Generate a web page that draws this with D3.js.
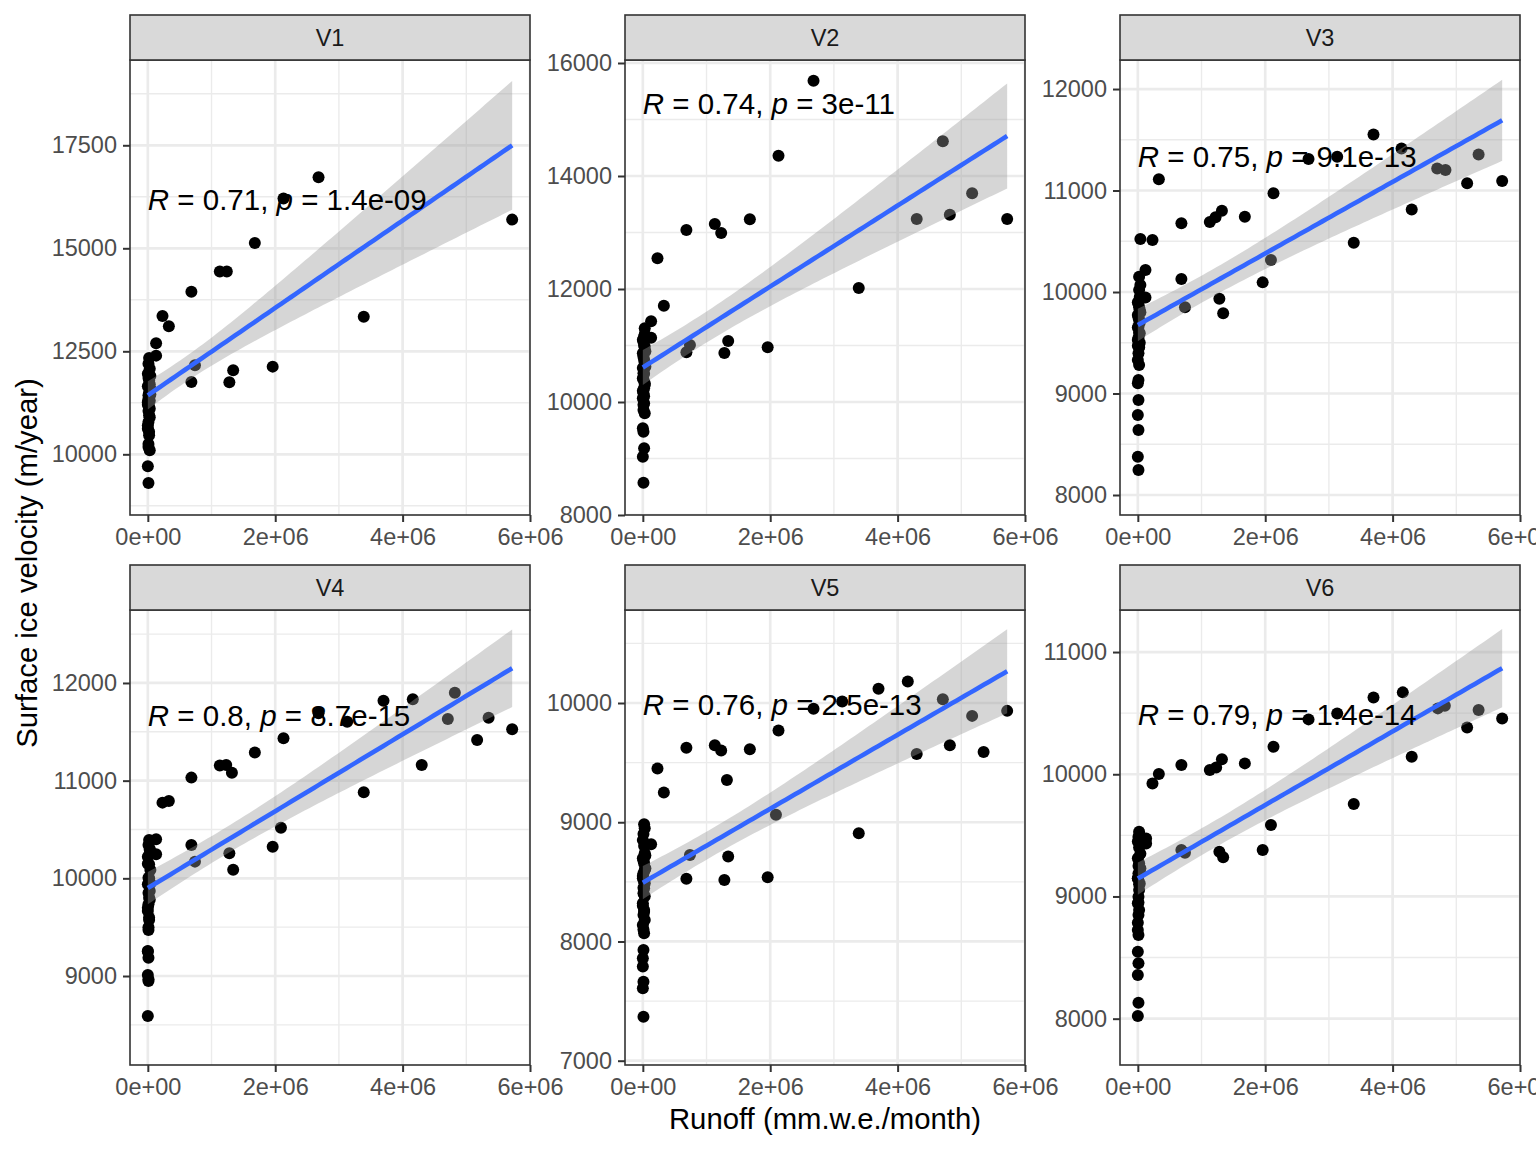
<!DOCTYPE html>
<html><head><meta charset="utf-8">
<script src="https://cdn.jsdelivr.net/npm/d3@7"></script>
<style>
html,body{margin:0;padding:0;background:#fff;}
svg{display:block;}
</style>
</head><body>
<script>
// ---------------- DATA ----------------
const panelNames = ["V1","V2","V3","V4","V5","V6"];
const corR = ["0.71","0.74","0.75","0.8","0.76","0.79"];
const corP = ["1.4e-09","3e-11","9.1e-13","8.7e-15","2.5e-13","1.4e-14"];
const xTicks = [0, 2e6, 4e6, 6e6];
const xTickLabels = ["0e+00","2e+06","4e+06","6e+06"];
const xMinorTicks = [1e6, 3e6, 5e6];
const xDomain = [-0.28e6, 6.0e6];
const yDomains = [[8527,19570],[8000,16053],[7803,12286],[8089,12747],[6964,10780],[7621,11344]];
const yTicks = [[10000,12500,15000,17500],[8000,10000,12000,14000,16000],[8000,9000,10000,11000,12000],[9000,10000,11000,12000],[7000,8000,9000,10000],[8000,9000,10000,11000]];
const yMinorTicks = [[8750,11250,13750,16250,18750],[9000,11000,13000,15000],[8500,9500,10500,11500],[8500,9500,10500,11500,12500],[7500,8500,9500,10500],[8500,9500,10500]];

// [runoff (mm.w.e./month), surface ice velocity (m/year)]
const v1 = [[2.68e6,16723],[2.13e6,16206],[5.72e6,15696],[1.68e6,15129],[1.13e6,14434],[1.24e6,14434],[0.684e6,13948],[0.23e6,13358],[0.33e6,13107],[3.39e6,13341],[0.13e6,12694],[0.13e6,12395],[1.96e6,12128],[1.34e6,12039],[0.74e6,12160],[0.684e6,11756],[1.28e6,11748],
 [0.02e6,12338],[0.01e6,12200],[0.03e6,12079],[0,11958],[0.02e6,11796],[0.04e6,11594],[0.01e6,11432],[0,11270],[0.03e6,11108],[0.02e6,10947],[0.01e6,10785],[0,10623],[0.02e6,10461],[0.01e6,10178],[0.03e6,10097],[0,9709],[0.01e6,9304],
 [0.03e6,11500],[0,11250],[0.02e6,11650],[0.04e6,11900],[0.01e6,11850],[0.03e6,11700],[0,11650],[0.02e6,11500],[0.04e6,11450],[0.01e6,11350],[0.03e6,11300],[0,11200],[0.02e6,11150],[0.01e6,11050],[0.03e6,10900],[0,10700],[0.02e6,10550],[0.01e6,10250]];
const v2 = [[2.68e6,15687],[2.13e6,14360],[4.71e6,14614],[5.17e6,13693],[4.82e6,13316],[4.30e6,13239],[5.72e6,13239],[1.68e6,13233],[0.684e6,13044],[1.13e6,13150],[1.23e6,12991],[0.23e6,12543],[3.39e6,12018],[0.33e6,11705],[0.13e6,11428],[0.13e6,11139],[0.74e6,11009],[0.684e6,10879],[1.34e6,11080],[1.28e6,10867],[1.96e6,10968],
 [0.03e6,11304],[0.02e6,11156],[0.01e6,11068],[0.03e6,10979],[0,10861],[0.02e6,10743],[0.04e6,10625],[0.01e6,10507],[0,10419],[0.03e6,10330],[0.02e6,10242],[0.01e6,10153],[0,10065],[0.02e6,9976],[0.01e6,9858],[0.03e6,9799],[0,9534],[0.01e6,9475],[0,9032],[0.01e6,8572],
 [0.03e6,11200],[0,11100],[0.02e6,11000],[0.04e6,10900],[0.01e6,10800],[0.03e6,10700],[0,10600],[0.02e6,10500],[0.01e6,10400],[0.03e6,10300],[0,10200],[0.02e6,10100],[0.01e6,9950],[0.02e6,9180]];
const v3 = [[3.70e6,11553],[4.14e6,11415],[3.13e6,11333],[2.68e6,11310],[5.35e6,11356],[4.70e6,11218],[4.83e6,11202],[0.33e6,11110],[5.72e6,11094],[5.17e6,11071],[2.13e6,10972],[4.30e6,10814],[1.32e6,10801],[1.22e6,10736],[1.13e6,10690],[1.68e6,10742],[0.684e6,10677],[0.23e6,10512],[3.39e6,10486],[2.09e6,10315],[1.96e6,10095],[0.684e6,10128],[1.28e6,9934],[0.74e6,9849],[1.34e6,9790],[0.12e6,10217],[0.12e6,9947],
 [0.04e6,10522],[0.04e6,10069],[0.02e6,10151],[0.02e6,10020],[0.01e6,9888],[0.03e6,9823],[0,9773],[0.02e6,9724],[0.01e6,9658],[0.03e6,9593],[0,9527],[0.02e6,9461],[0.01e6,9396],[0,9330],[0.02e6,9281],[0.01e6,9133],[0,9100],[0.01e6,8936],[0,8788],[0.01e6,8640],[0,8378],[0.01e6,8246],
 [0.03e6,9950],[0,9900],[0.02e6,9850],[0.04e6,9800],[0.01e6,9750],[0.03e6,9700],[0,9650],[0.02e6,9600],[0.01e6,9550],[0.03e6,9500],[0,9470],[0.02e6,9455]];
const v4 = [[4.82e6,11901],[3.70e6,11819],[4.16e6,11833],[2.68e6,11689],[3.13e6,11604],[4.71e6,11631],[5.35e6,11645],[5.72e6,11526],[5.17e6,11416],[2.13e6,11433],[1.68e6,11287],[4.30e6,11160],[1.13e6,11154],[1.23e6,11160],[1.32e6,11082],[0.684e6,11031],[3.39e6,10881],[0.23e6,10775],[0.33e6,10792],[2.09e6,10519],[1.96e6,10324],[0.684e6,10341],[1.28e6,10256],[0.74e6,10171],[1.34e6,10089],[0.13e6,10399],[0.13e6,10246],
 [0.02e6,10392],[0.01e6,10341],[0.03e6,10290],[0,10222],[0.02e6,10143],[0.04e6,10085],[0.01e6,10007],[0,9939],[0.03e6,9870],[0.02e6,9802],[0.01e6,9734],[0,9666],[0.02e6,9573],[0.01e6,9471],[0,9256],[0.01e6,9188],[0,9010],[0.01e6,8966],[0,8590],
 [0.03e6,10300],[0,10150],[0.02e6,10000],[0.04e6,9950],[0.01e6,9850],[0.03e6,9780],[0,9700],[0.02e6,9600],[0.01e6,9500],[0,9250],[0.01e6,8950]];
const v5 = [[4.16e6,10180],[3.70e6,10119],[3.13e6,10013],[2.68e6,9951],[4.71e6,10032],[5.72e6,9934],[5.17e6,9892],[2.13e6,9769],[0.684e6,9624],[1.13e6,9646],[1.23e6,9601],[1.68e6,9613],[4.82e6,9646],[4.30e6,9573],[5.35e6,9590],[0.23e6,9450],[1.32e6,9355],[0.33e6,9249],[2.09e6,9062],[3.39e6,8908],[0.13e6,8815],[0.74e6,8726],[1.34e6,8712],[0.684e6,8527],[1.28e6,8516],[1.96e6,8538],
 [0.02e6,8983],[0.01e6,8902],[0.03e6,8740],[0,8698],[0.02e6,8656],[0.04e6,8614],[0.01e6,8572],[0,8530],[0.03e6,8488],[0.02e6,8446],[0.01e6,8404],[0,8320],[0.02e6,8264],[0.01e6,8222],[0.03e6,8180],[0,8138],[0.02e6,8068],[0.01e6,7929],[0,7859],[0.01e6,7663],[0,7607],[0.01e6,7369],
 [0.03e6,8950],[0,8850],[0.02e6,8800],[0.04e6,8720],[0.01e6,8680],[0.03e6,8600],[0,8550],[0.02e6,8500],[0.01e6,8450],[0.03e6,8380],[0,8300],[0.02e6,8250],[0.01e6,8100],[0,7790]];
const v6 = [[4.16e6,10670],[3.70e6,10629],[3.13e6,10498],[2.68e6,10449],[4.71e6,10539],[4.82e6,10561],[5.35e6,10525],[5.72e6,10457],[5.17e6,10383],[2.13e6,10225],[0.684e6,10075],[1.68e6,10089],[1.13e6,10034],[1.23e6,10056],[1.32e6,10122],[0.33e6,10002],[0.23e6,9925],[4.30e6,10143],[3.39e6,9756],[2.09e6,9584],[1.96e6,9380],[0.684e6,9380],[0.74e6,9358],[1.28e6,9366],[1.34e6,9320],[0.13e6,9475],[0.13e6,9434],
 [0.02e6,9530],[0.01e6,9489],[0.03e6,9434],[0,9312],[0.02e6,9271],[0.04e6,9230],[0.01e6,9189],[0,9148],[0.03e6,9107],[0.02e6,9053],[0.01e6,8998],[0,8944],[0.02e6,8889],[0.01e6,8848],[0,8725],[0.01e6,8684],[0,8548],[0.01e6,8453],[0,8357],[0.01e6,8131],[0,8022],
 [0.03e6,9500],[0,9450],[0.02e6,9400],[0.04e6,9350],[0.01e6,9250],[0.03e6,9200],[0,9150],[0.02e6,9100],[0.01e6,8950],[0,8784]];
const panelData = [v1, v2, v3, v4, v5, v6];

// ---------------- LAYOUT ----------------
const W = 1536, H = 1152;
const FONT = "'Liberation Sans', Arial, Helvetica, sans-serif";
const colLeft = [130, 625, 1120];
const panelW = 400;
const stripTop = [15, 565];
const stripH = 45;
const panelH = 455;

function qt975(df) {
  const z = 1.959964;
  const g1 = (z**3 + z) / 4;
  const g2 = (5*z**5 + 16*z**3 + 3*z) / 96;
  const g3 = (3*z**7 + 19*z**5 + 17*z**3 - 15*z) / 384;
  return z + g1/df + g2/df**2 + g3/df**3;
}

function fitLm(pts) {
  const n = pts.length;
  const mx = d3.mean(pts, d => d[0]), my = d3.mean(pts, d => d[1]);
  let sxx = 0, sxy = 0;
  pts.forEach(([x, y]) => { sxx += (x - mx) ** 2; sxy += (x - mx) * (y - my); });
  const b = sxy / sxx, a = my - b * mx;
  let sse = 0;
  pts.forEach(([x, y]) => { sse += (y - a - b * x) ** 2; });
  const s = Math.sqrt(sse / (n - 2));
  const t = qt975(n - 2);
  const [x0, x1] = d3.extent(pts, d => d[0]);
  return d3.range(80).map(i => {
    const x = x0 + (x1 - x0) * i / 79;
    const yh = a + b * x;
    const se = s * Math.sqrt(1 / n + (x - mx) ** 2 / sxx);
    return { x, y: yh, lo: yh - t * se, hi: yh + t * se };
  });
}

const svg = d3.select("body").append("svg")
  .attr("width", W).attr("height", H)
  .attr("viewBox", `0 0 ${W} ${H}`)
  .style("font-family", FONT);

svg.append("rect").attr("width", W).attr("height", H).attr("fill", "#ffffff");

panelNames.forEach((name, i) => {
  const col = i % 3, row = Math.floor(i / 3);
  const left = colLeft[col];
  const sTop = stripTop[row];
  const pTop = sTop + stripH;
  const pBot = pTop + panelH;
  const pts = panelData[i];

  const x = d3.scaleLinear().domain(xDomain).range([left, left + panelW]);
  const y = d3.scaleLinear().domain(yDomains[i]).range([pBot, pTop]);

  const g = svg.append("g");
  const clipId = "clip" + i;
  svg.append("clipPath").attr("id", clipId).append("rect")
    .attr("x", left).attr("y", pTop).attr("width", panelW).attr("height", panelH);

  // panel background
  g.append("rect").attr("x", left).attr("y", pTop).attr("width", panelW).attr("height", panelH).attr("fill", "#ffffff");

  const grid = g.append("g").attr("clip-path", `url(#${clipId})`);
  // minor grid
  grid.append("g").selectAll("line").data(xMinorTicks).join("line")
    .attr("x1", d => x(d)).attr("x2", d => x(d)).attr("y1", pTop).attr("y2", pBot)
    .attr("stroke", "#EBEBEB").attr("stroke-width", 1.4);
  grid.append("g").selectAll("line").data(yMinorTicks[i]).join("line")
    .attr("y1", d => y(d)).attr("y2", d => y(d)).attr("x1", left).attr("x2", left + panelW)
    .attr("stroke", "#EBEBEB").attr("stroke-width", 1.4);
  // major grid
  grid.append("g").selectAll("line").data(xTicks).join("line")
    .attr("x1", d => x(d)).attr("x2", d => x(d)).attr("y1", pTop).attr("y2", pBot)
    .attr("stroke", "#EBEBEB").attr("stroke-width", 2.7);
  grid.append("g").selectAll("line").data(yTicks[i]).join("line")
    .attr("y1", d => y(d)).attr("y2", d => y(d)).attr("x1", left).attr("x2", left + panelW)
    .attr("stroke", "#EBEBEB").attr("stroke-width", 2.7);

  const dataG = g.append("g").attr("clip-path", `url(#${clipId})`);
  // points
  dataG.append("g").selectAll("circle").data(pts).join("circle")
    .attr("cx", d => x(d[0])).attr("cy", d => y(d[1])).attr("r", 6).attr("fill", "#000000");

  // smooth
  const fit = fitLm(pts);
  dataG.append("path").datum(fit)
    .attr("d", d3.area().x(d => x(d.x)).y0(d => y(d.lo)).y1(d => y(d.hi)))
    .attr("fill", "#999999").attr("fill-opacity", 0.4);
  dataG.append("path").datum(fit)
    .attr("d", d3.line().x(d => x(d.x)).y(d => y(d.y)))
    .attr("fill", "none").attr("stroke", "#3366FF").attr("stroke-width", 4.6);

  // correlation label
  const maxY = d3.max(pts, d => d[1]);
  const minX = d3.min(pts, d => d[0]);
  const lab = g.append("text")
    .attr("x", x(minX)).attr("y", y(maxY) + 33)
    .attr("font-size", "29.5px").attr("fill", "#000000")
    .style("white-space", "pre");
  lab.append("tspan").attr("font-style", "italic").text("R");
  lab.append("tspan").text(" = " + corR[i] + ", ");
  lab.append("tspan").attr("font-style", "italic").text("p");
  lab.append("tspan").text(" = " + corP[i]);

  // panel border
  g.append("rect").attr("x", left).attr("y", pTop).attr("width", panelW).attr("height", panelH)
    .attr("fill", "none").attr("stroke", "#333333").attr("stroke-width", 1.6);

  // strip
  g.append("rect").attr("x", left).attr("y", sTop).attr("width", panelW).attr("height", stripH)
    .attr("fill", "#D9D9D9").attr("stroke", "#333333").attr("stroke-width", 1.6);
  g.append("text").attr("x", left + panelW / 2).attr("y", sTop + stripH / 2)
    .attr("dy", "0.35em").attr("text-anchor", "middle")
    .attr("font-size", "23.5px").attr("fill", "#1A1A1A").text(name);

  // axes
  const xAxis = d3.axisBottom(x).tickValues(xTicks).tickFormat((d, k) => xTickLabels[k])
    .tickSize(7).tickPadding(6);
  const xg = g.append("g").attr("transform", `translate(0,${pBot})`).call(xAxis);
  const yAxis = d3.axisLeft(y).tickValues(yTicks[i]).tickFormat(d3.format("d"))
    .tickSize(7).tickPadding(6);
  const yg = g.append("g").attr("transform", `translate(${left},0)`).call(yAxis);
  [xg, yg].forEach(ax => {
    ax.select(".domain").remove();
    ax.selectAll(".tick line").attr("stroke", "#333333").attr("stroke-width", 2);
    ax.selectAll(".tick text").attr("fill", "#4D4D4D").attr("font-size", "23.5px").attr("font-family", FONT);
  });
});

// axis titles
svg.append("text")
  .attr("transform", "translate(37,563) rotate(-90)")
  .attr("text-anchor", "middle").attr("font-size", "29.3px").attr("fill", "#000000")
  .text("Surface ice velocity (m/year)");
svg.append("text")
  .attr("x", 825).attr("y", 1129)
  .attr("text-anchor", "middle").attr("font-size", "29.3px").attr("fill", "#000000")
  .text("Runoff (mm.w.e./month)");
</script>
</body></html>
